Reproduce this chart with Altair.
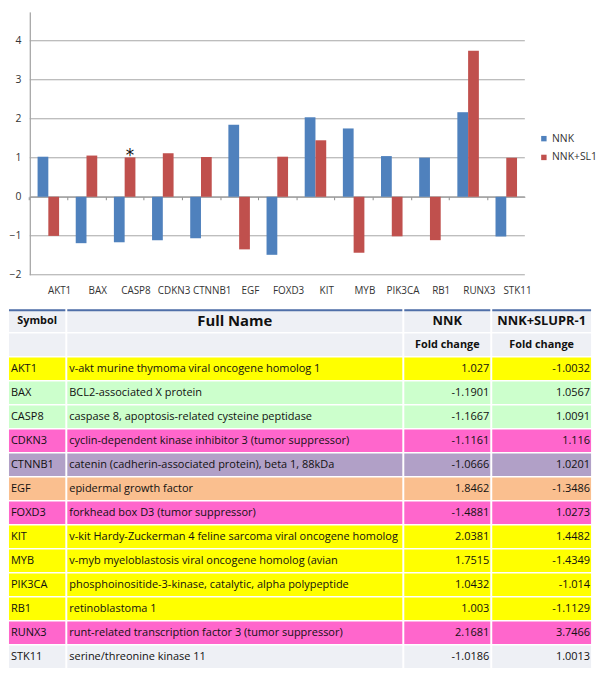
import altair as alt
import pandas as pd

# ---------------- data ----------------
symbols = ["AKT1", "BAX", "CASP8", "CDKN3", "CTNNB1", "EGF", "FOXD3", "KIT",
           "MYB", "PIK3CA", "RB1", "RUNX3", "STK11"]
full_names = [
    " v-akt murine thymoma viral oncogene homolog 1",
    "BCL2-associated X protein",
    "caspase 8, apoptosis-related cysteine peptidase",
    "cyclin-dependent kinase inhibitor 3 (tumor suppressor)",
    "catenin (cadherin-associated protein), beta 1, 88kDa",
    "epidermal growth factor",
    "forkhead box D3 (tumor suppressor)",
    "v-kit Hardy-Zuckerman 4 feline sarcoma viral oncogene homolog",
    " v-myb myeloblastosis viral oncogene homolog (avian",
    " phosphoinositide-3-kinase, catalytic, alpha polypeptide",
    "retinoblastoma 1",
    "runt-related transcription factor 3 (tumor suppressor)",
    "serine/threonine kinase 11",
]
nnk = [1.027, -1.1901, -1.1667, -1.1161, -1.0666, 1.8462, -1.4881, 2.0381,
       1.7515, 1.0432, 1.003, 2.1681, -1.0186]
nnk_slupr = [-1.0032, 1.0567, 1.0091, 1.116, 1.0201, -1.3486, 1.0273, 1.4482,
             -1.4349, -1.014, -1.1129, 3.7466, 1.0013]
row_colors = ["#FFFF00", "#CCFFCC", "#CCFFCC", "#FF66CC", "#B1A0C7", "#FABF8F",
              "#FF66CC", "#FFFF00", "#FFFF00", "#FFFF00", "#FFFF00", "#FF66CC",
              "#EEF0F5"]
header_color = "#EEF0F5"
series_names = ["NNK", "NNK+SL1"]
series_colors = ["#4F81BD", "#C0504D"]
y_ticks = [-2, -1, 0, 1, 2, 3, 4]
asterisk_symbol = ["CASP8"]
asterisk_series = ["NNK+SL1"]
header_rows = ["h1", "h1", "h1", "h1", "h2", "h2"]
header_cols = ["sym", "name", "nnk", "sl", "nnk", "sl"]
header_texts = ["Symbol", "Full Name", "NNK", "NNK+SLUPR-1", "Fold change", "Fold change"]
header_sizes = [11, 15, 13, 13, 11, 11]

FONT = "Open Sans"

# ---------------- bar chart ----------------
bar_df = pd.DataFrame({
    "Symbol": symbols * 2,
    "Series": [series_names[0]] * len(symbols) + [series_names[1]] * len(symbols),
    "Value": nnk + nnk_slupr,
})
ast_df = pd.DataFrame({
    "Symbol": asterisk_symbol,
    "Series": asterisk_series,
    "Value": [nnk_slupr[symbols.index(s)] for s in asterisk_symbol],
})
grid_df = pd.DataFrame({"v": y_ticks})

W, H = 522, 266
AX = 21  # room for y labels inside the view
YMIN, YMAX = -2, 4.74
zero_off = H * (0 - YMIN) / (YMAX - YMIN)
step = (W - AX) / (13 - 0.436 + 2 * 0.205)
gap = step * 0.436
bandw = step - gap

y_scale = alt.Scale(domain=[YMIN, YMAX], nice=False, zero=False)
x_scale = alt.Scale(paddingInner=0.436, paddingOuter=0.205, range=[AX, W])

x_enc = alt.X(
    "Symbol:N", sort=symbols, scale=x_scale,
    axis=alt.Axis(title=None, orient="bottom", offset=-zero_off,
                  domain=True, domainColor="#8C8C8C", ticks=True,
                  tickColor="#8C8C8C", tickSize=3, bandPosition=0,
                  tickOffset=-gap / 2, labelOffset=gap / 2 + bandw / 2,
                  labelPadding=87, labelAngle=0, labelFont=FONT,
                  labelFontSize=10, labelColor="#333333", grid=False),
)
xo_enc = alt.XOffset("Series:N", sort=series_names)
y_enc = alt.Y(
    "Value:Q", scale=y_scale,
    axis=alt.Axis(values=y_ticks, title=None, grid=False, offset=-AX,
                  domain=True, domainColor="#8C8C8C", ticks=False,
                  labelPadding=9, labelFont=FONT,
                  labelFontSize=10.5, labelColor="#333333"),
)

gridlines = alt.Chart(grid_df).mark_rule(color="#A6A6A6", strokeWidth=1).encode(
    y=alt.Y("v:Q", scale=y_scale), x=alt.value(AX), x2=alt.value(W))

bars = alt.Chart(bar_df).mark_bar().encode(
    x=x_enc, xOffset=xo_enc, y=y_enc,
    color=alt.Color("Series:N", sort=series_names,
                    scale=alt.Scale(domain=series_names, range=series_colors),
                    legend=alt.Legend(title=None, orient="none", legendX=W + 14,
                                      legendY=123, symbolType="square",
                                      symbolSize=30, symbolStrokeWidth=0,
                                      labelFont=FONT, labelFontSize=10.5,
                                      labelColor="#333333", rowPadding=8,
                                      labelOffset=3, padding=0)),
)
asterisk = alt.Chart(ast_df).mark_text(
    text="*", fontSize=17, font="DejaVu Sans", baseline="alphabetic",
    dy=4, color="#111111"
).encode(x=alt.X("Symbol:N", sort=symbols), xOffset=xo_enc, y="Value:Q")

bar_chart = alt.layer(gridlines, bars, asterisk).properties(width=W, height=H)

# ---------------- table ----------------
row_keys = ["h1", "h2"] + symbols
tbl = pd.DataFrame({
    "row": row_keys,
    "fill": [header_color, header_color] + row_colors,
    "sym": ["", ""] + symbols,
    "name": ["", ""] + full_names,
    "nnk": ["", ""] + [str(v) for v in nnk],
    "sl": ["", ""] + [str(v) for v in nnk_slupr],
})
hdr_df = pd.DataFrame({"row": header_rows, "col": header_cols,
                       "text": header_texts, "size": header_sizes})
TH = 363


def panel(col, width, align):
    yenc = alt.Y("row:N", sort=row_keys,
                 scale=alt.Scale(domain=row_keys, paddingInner=0.06, paddingOuter=0),
                 axis=None)
    rect = alt.Chart(tbl).mark_rect().encode(
        y=yenc, x=alt.value(0), x2=alt.value(width),
        color=alt.Color("fill:N", scale=None))
    hdr = alt.Chart(hdr_df).transform_filter(alt.datum.col == col).mark_text(
        font=FONT, fontWeight="bold", align="center", color="#111111"
    ).encode(y=yenc, x=alt.value(width / 2), text="text:N",
             size=alt.Size("size:Q", scale=None))
    dat = alt.Chart(tbl).transform_filter(
        "datum.row != 'h1' && datum.row != 'h2'").mark_text(
        font=FONT, fontSize=11.1, align=align, color="#111111"
    ).encode(y=yenc, x=alt.value(2 if align == "left" else width - 1),
             text=f"{col}:N")
    top = alt.Chart(pd.DataFrame({"k": [0]})).mark_rect(
        color="#4F6FA8").encode(
        x=alt.value(0), x2=alt.value(width), y=alt.value(0), y2=alt.value(2))
    return alt.layer(rect, hdr, dat, top).properties(width=width, height=TH)


table = alt.hconcat(
    panel("sym", 57, "left"),
    panel("name", 339, "left"),
    panel("nnk", 87, "right"),
    panel("sl", 100, "right"),
    spacing=2,
)

chart = alt.vconcat(bar_chart, table, spacing=13).properties(
    padding=0
).configure_view(stroke=None)

chart.save("out.html", embed_options={"renderer": "svg", "actions": False})
